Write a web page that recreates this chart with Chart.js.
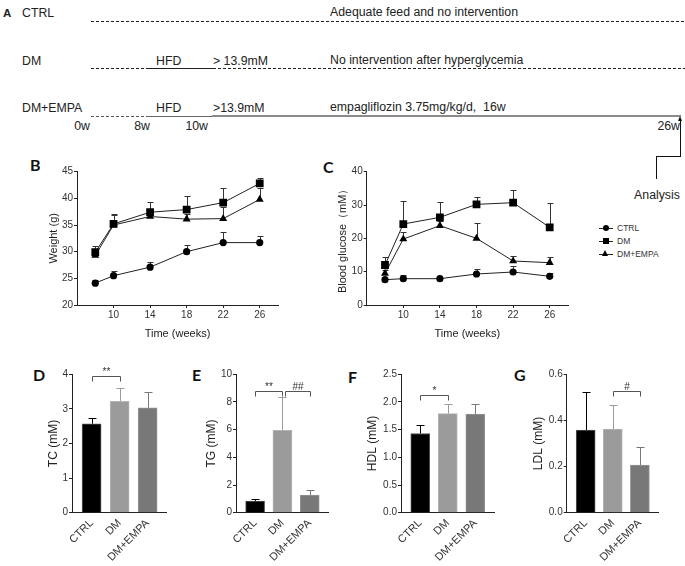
<!DOCTYPE html>
<html>
<head>
<meta charset="utf-8">
<script src="https://cdn.jsdelivr.net/npm/chart.js@4.4.1/dist/chart.umd.min.js"></script>
<style>
  body { margin: 0; background: #fff; }
  #page { position: relative; width: 685px; height: 566px; overflow: hidden;
          font-family: "Liberation Sans", Arial, sans-serif; color: #222; }
  .txt { position: absolute; white-space: nowrap; font-size: 12.3px; line-height: 12px; }
  .panel { position: absolute; font-family: Lato, "DejaVu Sans", sans-serif; font-weight: bold;
           font-size: 16px; line-height: 15px; color: #111; }
  .seg { position: absolute; }
  .dash { height: 1px; background: repeating-linear-gradient(90deg, #222 0 3px, transparent 3px 5px); }
  .solid { height: 1px; background: #222; }
  canvas { position: absolute; }
  .leg { position: absolute; font-size: 8.5px; line-height: 10px; color: #333; white-space: nowrap; }
</style>
</head>
<body>
<div id="page">
  <!-- panel A: study timeline -->
  <div class="txt" style="left:3px;top:7px;font-weight:bold;font-size:11.5px">A</div>
  <div class="txt" style="left:22px;top:7px">CTRL</div>
  <div class="txt" style="left:330px;top:6px">Adequate feed and no intervention</div>
  <div class="seg dash" style="left:91px;top:21px;width:594px"></div>

  <div class="txt" style="left:22px;top:55px">DM</div>
  <div class="txt" style="left:156px;top:55px">HFD</div>
  <div class="txt" style="left:213px;top:55px">&gt; 13.9mM</div>
  <div class="txt" style="left:330px;top:54px">No intervention after hyperglycemia</div>
  <div class="seg dash" style="left:91px;top:68px;width:56px"></div>
  <div class="seg solid" style="left:147px;top:68px;width:66px"></div>
  <div class="seg dash" style="left:213px;top:68px;width:472px"></div>

  <div class="txt" style="left:22px;top:102px">DM+EMPA</div>
  <div class="txt" style="left:156px;top:102px">HFD</div>
  <div class="txt" style="left:213px;top:102px">&gt;13.9mM</div>
  <div class="txt" style="left:330px;top:101px">empagliflozin 3.75mg/kg/d,&nbsp;&nbsp;16w</div>
  <div class="seg dash" style="left:91px;top:116px;width:56px;background:repeating-linear-gradient(90deg,#555 0 3px,transparent 3px 5px)"></div>
  <div class="seg solid" style="left:147px;top:116px;width:65px;background:#666"></div>
  <div class="seg" style="left:212px;top:115px;width:469px;height:2px;background:#8a8a8a"></div>

  <div class="txt" style="left:60px;top:120px;width:30px;text-align:right">0w</div>
  <div class="txt" style="left:120px;top:120px;width:30px;text-align:right">8w</div>
  <div class="txt" style="left:178px;top:120px;width:30px;text-align:right">10w</div>
  <div class="txt" style="left:650px;top:120px;width:30px;text-align:right">26w</div>

  <!-- arrow to analysis -->
  <div class="seg" style="left:680px;top:120px;width:1px;height:37px;background:#111"></div>
  <div class="seg" style="left:678px;top:116px;width:0;height:0;border-left:2.5px solid transparent;border-right:2.5px solid transparent;border-bottom:5px solid #111"></div>
  <div class="seg" style="left:656px;top:156px;width:25px;height:1px;background:#111"></div>
  <div class="seg" style="left:656px;top:156px;width:1px;height:23px;background:#111"></div>
  <div class="txt" style="left:617px;top:189px;width:80px;text-align:center">Analysis</div>

  <div class="panel" style="left:30px;top:157px">B</div>
  <div class="panel" style="left:323px;top:159px">C</div>
  <div class="panel" style="left:33px;top:367px">D</div>
  <div class="panel" style="left:192px;top:367px">E</div>
  <div class="panel" style="left:348px;top:369px">F</div>
  <div class="panel" style="left:514px;top:367px">G</div>

  <canvas id="weight" width="300" height="200" style="left:0;top:150px"></canvas>
  <canvas id="glucose" width="260" height="200" style="left:330px;top:150px"></canvas>
  <div id="legend"></div>

  <canvas id="tc" width="180" height="206" style="left:0;top:360px"></canvas>
  <canvas id="tg" width="160" height="206" style="left:180px;top:360px"></canvas>
  <canvas id="hdl" width="170" height="206" style="left:340px;top:360px"></canvas>
  <canvas id="ldl" width="175" height="206" style="left:510px;top:360px"></canvas>
</div>

<script>
// time course
var weeks = [8, 10, 14, 18, 22, 26];
var weekTicks = [10, 14, 18, 22, 26];
var groups = ['CTRL', 'DM', 'DM+EMPA'];

var weightCtrl = [24.1, 25.5, 27.1, 30.0, 31.7, 31.7];
var weightCtrlErr = [0.5, 0.9, 1.0, 1.3, 1.9, 1.3];
var weightDm = [29.9, 35.2, 37.4, 37.9, 39.2, 42.8];
var weightDmErr = [1.2, 1.9, 2.0, 2.6, 2.8, 1.1];
var weightEmpa = [29.3, 35.0, 36.6, 36.1, 36.2, 39.8];
var weightEmpaErr = [0.8, 1.9, 1.0, 1.0, 2.2, 2.1];
var weightTicks = [20, 25, 30, 35, 40, 45];

var glucoseCtrl = [7.6, 7.9, 7.9, 9.3, 9.9, 8.6];
var glucoseCtrlErr = [0.3, 1.1, 0.3, 1.6, 1.8, 0.9];
var glucoseDm = [12.0, 24.3, 26.3, 30.2, 30.7, 23.3];
var glucoseDmErr = [2.3, 6.9, 4.6, 2.2, 3.8, 7.2];
var glucoseEmpa = [9.5, 19.8, 23.8, 20.0, 13.2, 12.7];
var glucoseEmpaErr = [1.0, 2.0, 1.5, 4.6, 1.6, 1.8];
var glucoseTicks = [0, 10, 20, 30, 40];

// serum lipids, order CTRL / DM / DM+EMPA
var tc = [2.57, 3.22, 3.03];
var tcErr = [0.17, 0.39, 0.45];
var tcTicks = [0, 1, 2, 3, 4];
var tg = [0.84, 5.95, 1.28];
var tgErr = [0.15, 2.38, 0.38];
var tgTicks = [0, 2, 4, 6, 8, 10];
var hdl = [1.43, 1.79, 1.78];
var hdlErr = [0.15, 0.18, 0.19];
var hdlTicks = [0, 0.5, 1.0, 1.5, 2.0, 2.5];
var ldl = [0.358, 0.362, 0.206];
var ldlErr = [0.166, 0.107, 0.077];
var ldlTicks = [0, 0.2, 0.4, 0.6];

var FONT = '"Liberation Sans", Arial, sans-serif';
var barFill = ['#000000', '#9b9b9b', '#787878'];
var barEdge = ['#555555', '#b4b4b4', '#959595'];

// upward-only SEM whiskers
var errorBars = {
  id: 'errorBars',
  beforeDatasetsDraw: function(chart) {
    var ctx = chart.ctx, x = chart.scales.x, y = chart.scales.y;
    chart.data.datasets.forEach(function(ds) {
      if (!ds.errors) return;
      ctx.save();
      ctx.lineWidth = 1;
      ds.data.forEach(function(p, i) {
        var col = Array.isArray(ds.errorColor) ? ds.errorColor[i] : ds.errorColor;
        var xc = Math.round(x.getPixelForValue(p.x)) + 0.5;
        var y0 = y.getPixelForValue(p.y);
        var y1 = Math.round(y.getPixelForValue(p.y + ds.errors[i])) + 0.5;
        var w = ds.capWidth || 6;
        ctx.strokeStyle = col;
        ctx.beginPath();
        ctx.moveTo(xc, y0); ctx.lineTo(xc, y1);
        ctx.moveTo(xc - w / 2, y1); ctx.lineTo(xc + w / 2, y1);
        ctx.stroke();
      });
      ctx.restore();
    });
  }
};

// significance brackets
var sigMarks = {
  id: 'sig',
  afterDatasetsDraw: function(chart, args, opts) {
    if (!opts.marks) return;
    var ctx = chart.ctx, x = chart.scales.x, y = chart.scales.y;
    ctx.save();
    ctx.strokeStyle = '#555';
    ctx.fillStyle = '#333';
    ctx.lineWidth = 1;
    ctx.font = '10px ' + FONT;
    ctx.textAlign = 'center';
    opts.marks.forEach(function(m) {
      var a = Math.round(x.getPixelForValue(m[0])) + 0.5;
      var b = Math.round(x.getPixelForValue(m[1])) + 0.5;
      var yy = Math.round(y.getPixelForValue(m[2])) + 0.5;
      ctx.beginPath();
      ctx.moveTo(a, yy + 5); ctx.lineTo(a, yy); ctx.lineTo(b, yy); ctx.lineTo(b, yy + 5);
      ctx.stroke();
      ctx.fillText(m[3], (a + b) / 2, yy - 2);
    });
    ctx.restore();
  }
};

function fixTicks(list) {
  return function(s) { s.ticks = list.map(function(v) { return {value: v}; }); };
}

function axisStyle(extra) {
  var base = {
    grid: {display: true, drawOnChartArea: false, drawTicks: true, tickLength: 3, color: '#222'},
    border: {display: true, color: '#222', width: 1},
    ticks: {color: '#333', font: {size: 10, family: FONT}, padding: 1, autoSkip: false, maxRotation: 0}
  };
  return Object.assign(base, extra);
}

function lineChart(id, series, yMin, yMax, yTicks, yTitle, g) {
  return new Chart(document.getElementById(id), {
    type: 'line',
    data: {
      datasets: series.map(function(s) {
        return {
          label: s.name,
          data: weeks.map(function(w, i) { return {x: w, y: s.values[i]}; }),
          errors: s.errs, errorColor: '#333', capWidth: 6,
          borderColor: '#222', borderWidth: 1, backgroundColor: '#000',
          pointStyle: s.shape, pointRadius: s.r, pointBorderWidth: 0,
          pointBackgroundColor: '#000', tension: 0
        };
      })
    },
    options: {
      responsive: false, animation: false, devicePixelRatio: 1,
      layout: {padding: {left: 0, top: g.top, right: g.right, bottom: 0}},
      plugins: {legend: {display: false}, tooltip: {enabled: false}},
      scales: {
        x: axisStyle({
          type: 'linear', min: 6, max: 28,
          afterBuildTicks: fixTicks(weekTicks),
          afterFit: function(s) { s.height = g.xh; },
          title: {display: true, text: 'Time (weeks)', color: '#222',
                  font: {size: 11, family: FONT}, padding: {top: 0, bottom: g.xt}}
        }),
        y: axisStyle({
          type: 'linear', min: yMin, max: yMax,
          afterBuildTicks: fixTicks(yTicks),
          afterFit: function(s) { s.width = g.yw; },
          title: {display: true, text: yTitle, color: '#222',
                  font: {size: 11, family: FONT}, padding: {top: g.yt, bottom: 0}}
        })
      }
    },
    plugins: [errorBars]
  });
}

function barChart(id, vals, errs, yMax, yTicks, yTitle, decimals, marks, g) {
  return new Chart(document.getElementById(id), {
    type: 'bar',
    data: {
      datasets: [{
        data: groups.map(function(c, i) { return {x: i, y: vals[i]}; }),
        errors: errs, errorColor: barFill, capWidth: 8,
        backgroundColor: barFill, borderColor: barEdge, borderWidth: 1,
        barThickness: 19
      }]
    },
    options: {
      responsive: false, animation: false, devicePixelRatio: 1,
      layout: {padding: {left: 0, top: g.top, right: g.right, bottom: 0}},
      plugins: {legend: {display: false}, tooltip: {enabled: false}, sig: {marks: marks}},
      scales: {
        x: {
          type: 'linear', min: -0.7, max: 2.68, offset: false,
          afterBuildTicks: fixTicks([0, 1, 2]),
          afterFit: function(s) { s.height = g.xh; },
          grid: {display: true, offset: false, drawOnChartArea: false, drawTicks: false},
          border: {display: true, color: '#222', width: 1},
          ticks: {color: '#333', font: {size: 11, family: FONT}, padding: 4, autoSkip: false,
                  minRotation: 45, maxRotation: 45,
                  callback: function(v) { return groups[v]; }}
        },
        y: axisStyle({
          type: 'linear', min: 0, max: yMax,
          afterBuildTicks: fixTicks(yTicks),
          afterFit: function(s) { s.width = g.yw; },
          ticks: {color: '#333', font: {size: 10, family: FONT}, padding: 1,
                  callback: function(v) { return v.toFixed(decimals); }},
          title: {display: true, text: yTitle, color: '#222',
                  font: {size: 12, family: FONT}, padding: {top: g.yt, bottom: 0}}
        })
      }
    },
    plugins: [errorBars, sigMarks]
  });
}

var shapes = [
  {name: 'CTRL', shape: 'circle', r: 3.6},
  {name: 'DM', shape: 'rect', r: 5.5},
  {name: 'DM+EMPA', shape: 'triangle', r: 4.6}
];

lineChart('weight', [
  Object.assign({values: weightCtrl, errs: weightCtrlErr}, shapes[0]),
  Object.assign({values: weightDm, errs: weightDmErr}, shapes[1]),
  Object.assign({values: weightEmpa, errs: weightEmpaErr}, shapes[2])
], 20, 45, weightTicks, 'Weight (g)', {top: 21.7, right: 22, xh: 45, xt: 9.4, yw: 77, yt: 47.4});

lineChart('glucose', [
  Object.assign({values: glucoseCtrl, errs: glucoseCtrlErr}, shapes[0]),
  Object.assign({values: glucoseDm, errs: glucoseDmErr}, shapes[1]),
  Object.assign({values: glucoseEmpa, errs: glucoseEmpaErr}, shapes[2])
], 0, 40, glucoseTicks, 'Blood glucose（mM）', {top: 21.7, right: 22, xh: 45, xt: 9.4, yw: 36.7, yt: 6.4});

barChart('tc', tc, tcErr, 4, tcTicks, 'TC (mM)', 0, [[0, 1, 3.96, '**']],
  {top: 14.3, right: 13.3, xh: 53.3, yw: 72, yt: 46.8});
barChart('tg', tg, tgErr, 10, tgTicks, 'TG (mM)', 0, [[0, 0.97, 8.81, '**'], [1.08, 2, 8.81, '##']],
  {top: 14.3, right: 11.7, xh: 53.3, yw: 56, yt: 24.5});
barChart('hdl', hdl, hdlErr, 2.5, hdlTicks, 'HDL (mM)', 1, [[0, 1, 2.125, '*']],
  {top: 14.3, right: 16, xh: 53.3, yw: 61, yt: 25.8});
barChart('ldl', ldl, ldlErr, 0.6, ldlTicks, 'LDL (mM)', 1, [[1, 2, 0.527, '#']],
  {top: 14.3, right: 26.7, xh: 53.3, yw: 56.7, yt: 21.8});

// legend for panel C
var legendTops = [228, 241, 254];
var legend = document.getElementById('legend');
shapes.forEach(function(s, i) {
  var y = legendTops[i];
  var mark = '';
  if (s.shape === 'circle') mark = '<div class="seg" style="left:603px;top:' + (y - 3) + 'px;width:6px;height:6px;border-radius:50%;background:#000"></div>';
  if (s.shape === 'rect') mark = '<div class="seg" style="left:603px;top:' + (y - 3) + 'px;width:6px;height:6px;background:#000"></div>';
  if (s.shape === 'triangle') mark = '<div class="seg" style="left:602px;top:' + (y - 4) + 'px;width:0;height:0;border-left:3.5px solid transparent;border-right:3.5px solid transparent;border-bottom:6px solid #000"></div>';
  legend.insertAdjacentHTML('beforeend',
    '<div class="seg" style="left:599px;top:' + y + 'px;width:14px;height:1px;background:#222"></div>' + mark +
    '<div class="leg" style="left:617px;top:' + (y - 5) + 'px">' + s.name + '</div>');
});
</script>
</body>
</html>
